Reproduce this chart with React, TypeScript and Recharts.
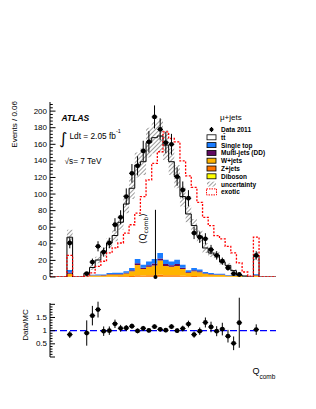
import React from "react";
import {
  ComposedChart,
  Area,
  Line,
  Scatter,
  XAxis,
  YAxis,
  ErrorBar,
  ReferenceLine,
  ReferenceDot,
} from "recharts";

// ---------- binning ----------
const BIN_START = -1.2;
const BIN_WIDTH = 0.06;
const N_BINS = 40;

// ---------- per-bin values (bin i covers [-1.2+0.06i, -1.2+0.06(i+1)]) ----------
const dibosonBins = [0,0,0,0,0,0,0,0,0,0, 0.1,0.1,0.1,0.1,0.1,0.2,0.2,0.2,0.2,0.3, 0.2,0.2,0.2,0.2,0.1,0.1,0.1,0.1,0.1,0, 0,0,0,0,0,0,0,0,0,0];
const zjetsBins = [0,0,0,0.5,0,0,0.1,0.3,0.4,0.4, 0.6,0.6,0.7,0.9,1.2,2.0,1.6,1.8,2.0,2.4, 2.0,1.8,2.0,1.4,0.8,1.1,0.9,0.6,0.5,0.4, 0.4,0.3,0.2,0.1,0.1,0,0.3,0,0,0];
const wjetsBins = [0,0,0,3.5,0,0,0.4,1.4,1.4,1.5, 2.3,2.4,2.2,3.2,5.6,12.2,7.9,10.3,11.7,17.1, 11.2,10.3,11.2,8.0,4.2,5.6,4.7,3.1,2.4,2.1, 2.1,1.3,1.3,1.2,0.4,0,1.6,0,0,0];
const multijetBins = [0,0,0,1.5,0,0,0.1,0.3,0.3,0.4, 0.5,0.5,0.6,0.8,1.2,2.2,1.6,1.9,2.5,2.5, 2.4,2.0,2.4,1.7,1.0,1.3,1.1,0.7,0.6,0.5, 0.5,0.3,0.3,0.2,0.1,0,0.5,0,0,0];
const singleTopBins = [0,0,0,3,0,0,0.2,0.8,0.8,0.8, 1.3,1.4,1.4,1.8,2.7,5.0,3.5,4.5,5.2,6.5, 5.0,4.4,5.0,3.5,1.9,2.7,2.2,1.5,1.2,1.0, 1.0,0.6,0.6,0.6,0.3,0,1.0,0,0,0];
const mcTotalBins = [0,0,0,48,0,0,4.4,11.5,20.5,30.5, 41,50,66,88,107,135,139,162,168,170, 159,139,121,97,76,62,49,35,29,26.4, 18,14,7.7,2.3,1.2,0,25,0,0,0];
const mcUncertBins = [0,0,0,9,0,0,1.5,3,4,5, 6,7,9,11,13,15,16,18,19,20, 18,16,14,12,10,8,7,6,5,4, 3,2.5,2,1,0.5,0,5,0,0,0];
const exoticBins = [0,0,0,26,0,0,1,5,12.7,19, 29,35,41,53,63,77,97,117,137,151, 175,167,163,140,122,108,90,72,62,50, 46,37,29,17,6,1,48,0,0,0];

const dataCounts = [null,null,null,41,null,null,4,18,37,30, 41,63,72,97,125,134,152,163,193,178, 162,160,121,105,95,53,48,46,33,26, 19,11,4,3,null,null,26,null,null,null];
const dataErrors = [null,null,null,6.4,null,null,2,4.2,6.1,5.5, 6.4,7.9,8.5,9.8,11.2,11.6,12.3,12.8,13.9,13.3, 12.7,12.6,11,10.2,9.7,7.3,6.9,6.8,5.7,5.1, 4.4,3.3,2,1.7,null,null,5.1,null,null,null];
const ratioValues = [null,null,null,0.85,null,null,0.91,1.57,1.80,0.98, 1.00,1.26,1.09,1.10,1.17,0.99,1.09,1.01,1.15,1.05, 1.02,1.15,1.00,1.08,1.25,0.85,0.98,1.31,1.14,0.98, 1.06,0.79,0.52,1.30,null,null,1.04,null,null,null];
const ratioErrors = [null,null,null,0.13,null,null,0.48,0.37,0.30,0.18, 0.16,0.16,0.13,0.11,0.10,0.09,0.09,0.08,0.08,0.08, 0.08,0.09,0.09,0.11,0.13,0.12,0.14,0.19,0.20,0.19, 0.24,0.24,0.26,0.95,null,null,0.2,null,null,null];

const MEAN_Q = -0.08;
const MEAN_LINE_TOP = 81;

// ---------- ticks / labels ----------
const MAIN_Y_LABELS = [0, 20, 40, 60, 80, 100, 120, 140, 160, 180, 200];
const RATIO_Y_LABELS = [0.5, 1, 1.5];
const X_LABELS = [-1, -0.5, 0, 0.5, 1];

const colors = {
  diboson: "#ffff00",
  zjets: "#ff7400",
  wjets: "#ffb400",
  multijet: "#5f0a60",
  singleTop: "#1a7cff",
  ttbar: "#ffffff",
  exotic: "#ff0000",
};

const FONT = "'Liberation Sans', Arial, Helvetica, sans-serif";

// ---------- tables built from the arrays ----------
const edge = (i: number) => +(BIN_START + i * BIN_WIDTH).toFixed(4);
const center = (i: number) => +(BIN_START + (i + 0.5) * BIN_WIDTH).toFixed(4);

const histRows = Array.from({ length: N_BINS + 1 }, (_, i) => {
  const j = Math.min(i, N_BINS - 1);
  const bg = dibosonBins[j] + zjetsBins[j] + wjetsBins[j] + multijetBins[j] + singleTopBins[j];
  return {
    x: edge(i),
    diboson: dibosonBins[j],
    zjets: zjetsBins[j],
    wjets: wjetsBins[j],
    multijet: multijetBins[j],
    singleTop: singleTopBins[j],
    ttbar: Math.max(0, mcTotalBins[j] - bg),
    lo: Math.max(0, mcTotalBins[j] - mcUncertBins[j]),
    hi: mcTotalBins[j] + mcUncertBins[j],
    exotic: exoticBins[j],
  };
});

const dataPoints = dataCounts
  .map((v, i) => (v == null ? null : { x: center(i), y: v, ey: dataErrors[i], ex: BIN_WIDTH / 2 }))
  .filter(Boolean) as any[];

const ratioPoints = ratioValues
  .map((v, i) => (v == null ? null : { x: center(i), y: v, ey: ratioErrors[i], ex: BIN_WIDTH / 2 }))
  .filter(Boolean) as any[];

const range = (a: number, b: number, s: number) => {
  const out: number[] = [];
  for (let k = 0; a + k * s <= b + 1e-9; k++) out.push(+(a + k * s).toFixed(4));
  return out;
};
const X_TICKS = range(-1.2, 1.2, 0.1);
const MAIN_Y_TICKS = range(0, 208, 4);
const RATIO_Y_TICKS = range(0, 2, 0.1);

const near = (a: number, b: number) => Math.abs(a - b) < 1e-6;
const isMajor = (v: number, step: number) => near(v / step, Math.round(v / step));

const yTick = (side: "left" | "right", step: number, majLen: number, minLen: number, labels?: number[]) =>
  (p: any) => {
    const v = p.payload.value;
    const len = isMajor(v, step) ? majLen : minLen;
    const d = side === "left" ? 1 : -1;
    const lab = labels ? labels.find((l) => near(l, v)) : undefined;
    return (
      <g>
        <line x1={p.x} x2={p.x + d * len} y1={p.y} y2={p.y} stroke="#000" strokeWidth={1} />
        {lab !== undefined && (
          <text x={p.x - 3} y={p.y} textAnchor="end" dominantBaseline="central" fontSize={8} fontFamily={FONT} fill="#000">
            {String(lab)}
          </text>
        )}
      </g>
    );
  };

const xTick = (side: "bottom" | "top", step: number, majLen: number, minLen: number, labels?: number[]) =>
  (p: any) => {
    const v = p.payload.value;
    const len = isMajor(v, step) ? majLen : minLen;
    const d = side === "bottom" ? -1 : 1;
    const lab = labels ? labels.find((l) => near(l, v)) : undefined;
    return (
      <g>
        <line x1={p.x} x2={p.x} y1={p.y} y2={p.y + d * len} stroke="#000" strokeWidth={1} />
        {lab !== undefined && (
          <text x={p.x} y={p.y + 7} textAnchor="middle" dominantBaseline="central" fontSize={8} fontFamily={FONT} fill="#000">
            {String(lab)}
          </text>
        )}
      </g>
    );
  };

const dot = (p: any) => <circle cx={p.cx} cy={p.cy} r={2.4} fill="#000" />;

const legendRows = [
  { label: "Data 2011", kind: "data" },
  { label: "tt\u0304", kind: "box", fill: colors.ttbar },
  { label: "Single top", kind: "box", fill: colors.singleTop },
  { label: "Multi-jets (DD)", kind: "box", fill: colors.multijet },
  { label: "W+jets", kind: "box", fill: colors.wjets },
  { label: "Z+jets", kind: "box", fill: colors.zjets },
  { label: "Diboson", kind: "box", fill: colors.diboson },
  { label: "uncertainty", kind: "hatch" },
  { label: "exotic", kind: "exotic" },
];

export default function App() {
  return (
    <div style={{ position: "absolute", left: 0, top: 0, width: 316, height: 409, background: "#fff" }}>
      <svg width={0} height={0} style={{ position: "absolute" }}>
        <defs>
          <pattern id="hatch" width={3} height={3} patternUnits="userSpaceOnUse" patternTransform="rotate(45)">
            <line x1={0} y1={0} x2={0} y2={3} stroke="#222" strokeWidth={0.9} />
          </pattern>
        </defs>
      </svg>

      <div style={{ position: "absolute", left: 0, top: 0 }}>
        <ComposedChart width={316} height={290} data={histRows} margin={{ top: 102, right: 40, bottom: 13, left: 20 }}>
          <XAxis type="number" dataKey="x" domain={[-1.2, 1.2]} allowDataOverflow ticks={X_TICKS} interval={0}
            height={0} tickSize={0} tickMargin={0} tickLine={false} axisLine={{ stroke: "#000" }}
            tick={xTick("bottom", 0.5, 5.5, 2.8)} />
          <XAxis xAxisId="top" orientation="top" type="number" dataKey="x" domain={[-1.2, 1.2]} allowDataOverflow
            ticks={X_TICKS} interval={0} height={0} tickSize={0} tickMargin={0} tickLine={false}
            axisLine={{ stroke: "#000" }} tick={xTick("top", 0.5, 5.5, 2.8)} />
          <YAxis type="number" domain={[0, 211]} allowDataOverflow ticks={MAIN_Y_TICKS} interval={0} width={30}
            tickSize={0} tickMargin={0} tickLine={false} axisLine={{ stroke: "#000" }}
            tick={yTick("left", 20, 5.5, 2.8, MAIN_Y_LABELS)} />
          <YAxis yAxisId="r" orientation="right" type="number" domain={[0, 211]} allowDataOverflow ticks={MAIN_Y_TICKS}
            interval={0} width={0} tickSize={0} tickMargin={0} tickLine={false} axisLine={{ stroke: "#000" }}
            tick={yTick("right", 20, 5.5, 2.8)} />

          <Area type="stepAfter" dataKey="diboson" stackId="mc" fill={colors.diboson} fillOpacity={1} stroke="none" isAnimationActive={false} dot={false} activeDot={false} />
          <Area type="stepAfter" dataKey="zjets" stackId="mc" fill={colors.zjets} fillOpacity={1} stroke="none" isAnimationActive={false} dot={false} activeDot={false} />
          <Area type="stepAfter" dataKey="wjets" stackId="mc" fill={colors.wjets} fillOpacity={1} stroke="none" isAnimationActive={false} dot={false} activeDot={false} />
          <Area type="stepAfter" dataKey="multijet" stackId="mc" fill={colors.multijet} fillOpacity={1} stroke="none" isAnimationActive={false} dot={false} activeDot={false} />
          <Area type="stepAfter" dataKey="singleTop" stackId="mc" fill={colors.singleTop} fillOpacity={1} stroke="none" isAnimationActive={false} dot={false} activeDot={false} />
          <Area type="stepAfter" dataKey="ttbar" stackId="mc" fill="none" stroke="#000" strokeWidth={1} isAnimationActive={false} dot={false} activeDot={false} />
          <Area type="stepAfter" dataKey={(d: any) => [d.lo, d.hi]} fill="url(#hatch)" fillOpacity={1} stroke="none" isAnimationActive={false} dot={false} activeDot={false} />
          <Line type="stepAfter" dataKey="exotic" stroke={colors.exotic} strokeWidth={1.3} strokeDasharray="2 1.5" dot={false} activeDot={false} isAnimationActive={false} />

          <ReferenceLine segment={[{ x: MEAN_Q, y: 0 }, { x: MEAN_Q, y: MEAN_LINE_TOP }]} stroke="#000" strokeWidth={1} />
          <ReferenceDot x={MEAN_Q} y={0} r={2} fill="#000" stroke="none" />

          <Scatter data={dataPoints} dataKey="y" shape={dot} isAnimationActive={false}>
            <ErrorBar dataKey="ey" direction="y" width={0} stroke="#000" strokeWidth={1} />
            <ErrorBar dataKey="ex" direction="x" width={0} stroke="#000" strokeWidth={1} />
          </Scatter>
        </ComposedChart>
      </div>

      <div style={{ position: "absolute", left: 0, top: 290 }}>
        <ComposedChart width={316} height={119} margin={{ top: 13, right: 40, bottom: 52, left: 20 }}>
          <XAxis type="number" dataKey="x" domain={[-1.2, 1.2]} allowDataOverflow ticks={X_TICKS} interval={0}
            height={0} tickSize={0} tickMargin={0} tickLine={false} axisLine={{ stroke: "#000" }}
            tick={xTick("bottom", 0.5, 5, 2.5, X_LABELS)} />
          <XAxis xAxisId="top" orientation="top" type="number" dataKey="x" domain={[-1.2, 1.2]} allowDataOverflow
            ticks={X_TICKS} interval={0} height={0} tickSize={0} tickMargin={0} tickLine={false}
            axisLine={{ stroke: "#000" }} tick={xTick("top", 0.5, 5, 2.5)} />
          <YAxis type="number" domain={[0, 2.05]} allowDataOverflow ticks={RATIO_Y_TICKS} interval={0} width={30}
            tickSize={0} tickMargin={0} tickLine={false} axisLine={{ stroke: "#000" }}
            tick={yTick("left", 0.5, 5, 2.5, RATIO_Y_LABELS)} />
          <YAxis yAxisId="r" orientation="right" type="number" domain={[0, 2.05]} allowDataOverflow ticks={RATIO_Y_TICKS}
            interval={0} width={0} tickSize={0} tickMargin={0} tickLine={false} axisLine={{ stroke: "#000" }}
            tick={yTick("right", 0.5, 5, 2.5)} />
          <ReferenceLine y={1} stroke="#0000ff" strokeWidth={1.2} strokeDasharray="7 3" />
          <Scatter data={ratioPoints} dataKey="y" shape={dot} isAnimationActive={false}>
            <ErrorBar dataKey="ey" direction="y" width={0} stroke="#000" strokeWidth={1} />
            <ErrorBar dataKey="ex" direction="x" width={0} stroke="#000" strokeWidth={1} />
          </Scatter>
        </ComposedChart>
      </div>

      <svg width={316} height={409} style={{ position: "absolute", left: 0, top: 0, pointerEvents: "none" }} fontFamily={FONT}>
        {/* axis titles */}
        <text transform="translate(17,101) rotate(-90)" textAnchor="end" fontSize={8} fill="#000">Events / 0.06</text>
        <text transform="translate(28,325) rotate(-90)" textAnchor="middle" fontSize={8} fill="#000">Data/MC</text>
        <text x={252.5} y={374} fontSize={9} fill="#000">Q</text>
        <text x={259.5} y={378.5} fontSize={6.5} fill="#000">comb</text>

        {/* ATLAS labels */}
        <text x={61.5} y={120.5} fontSize={8.5} fontWeight="bold" fontStyle="italic" fill="#000">ATLAS</text>
        <text x={59} y={144} fontSize={16} fontFamily="'DejaVu Sans', sans-serif" fill="#000">∫</text>
        <text x={69.5} y={138.5} fontSize={8.3} fill="#000">Ldt = 2.05 fb</text>
        <text x={116} y={133} fontSize={5.5} fill="#000">-1</text>
        <text x={64.5} y={164} fontSize={8.3} fill="#000">√s= 7 TeV</text>

        {/* mean label */}
        <text transform="translate(145.5,244) rotate(-90)" fontSize={9} fill="#000" fontFamily="'DejaVu Sans', sans-serif">
          ⟨Q<tspan fontSize={6} dy={2.5}>comb</tspan><tspan dy={-2.5}>⟩</tspan>
        </text>

        {/* legend */}
        <text x={220} y={120} fontSize={8} fill="#000">μ+jets</text>
        {legendRows.map((r, k) => {
          const cy = 129.5 + 7.8 * k;
          return (
            <g key={r.label}>
              {r.kind === "data" && (
                <g>
                  <line x1={211.5} x2={211.5} y1={cy - 2.5} y2={cy + 2.5} stroke="#000" />
                  <circle cx={211.5} cy={cy} r={2} fill="#000" />
                </g>
              )}
              {r.kind === "box" && (
                <rect x={207} y={cy - 2.5} width={9} height={5} fill={(r as any).fill} stroke="#000" strokeWidth={0.8} />
              )}
              {r.kind === "hatch" && <rect x={207} y={cy - 2.5} width={9} height={5} fill="url(#hatch)" stroke="none" />}
              {r.kind === "exotic" && (
                <rect x={206.5} y={cy - 3} width={10} height={6} fill="#fff" stroke={colors.exotic} strokeWidth={1} strokeDasharray="1.5 1" />
              )}
              <text x={221} y={cy} dominantBaseline="central" fontSize={6.5} fontWeight="bold" fill="#000">{r.label}</text>
            </g>
          );
        })}
      </svg>
    </div>
  );
}
